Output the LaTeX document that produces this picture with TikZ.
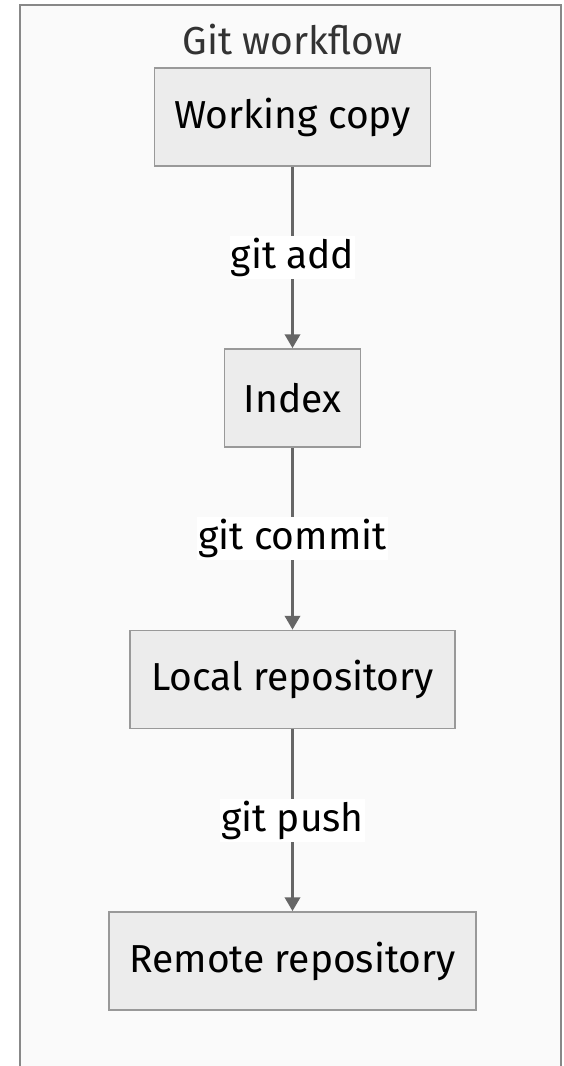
\documentclass[tikz,border=0pt]{standalone}
\usepackage{fontspec}
\setmainfont{Fira Sans}
\usetikzlibrary{arrows.meta}
\definecolor{framefill}{HTML}{FAFAFA}
\definecolor{framedraw}{HTML}{888888}
\definecolor{boxfill}{HTML}{ECECEC}
\definecolor{boxdraw}{HTML}{999999}
\definecolor{edgecol}{HTML}{666666}
\definecolor{titlecol}{HTML}{333333}
\begin{document}
\begin{tikzpicture}[x=1pt,y=-1pt,
  txt/.style={font=\fontsize{39}{44}\selectfont},
  stepbox/.style={txt, draw=boxdraw, fill=boxfill, line width=1.5pt, minimum height=98pt, inner sep=0pt},
  edgelabel/.style={txt, fill=white, inner xsep=1pt, inner ysep=2pt},
  flow/.style={draw=edgecol, line width=3.5pt, -{Triangle[length=14pt,width=15pt]}}
]
\useasboundingbox (0,0) rectangle (564,1066);
\fill[white] (0,0) rectangle (564,1066);
\filldraw[draw=framedraw, fill=framefill, line width=2pt] (20,1090) -- (20,5) -- (561,5) -- (561,1090);
\node[txt, text=titlecol] (title) at (292.5,40) {Git workflow};
\node[stepbox, minimum width=276pt] (wc) at (292.5,117) {Working copy};
\node[stepbox, minimum width=136pt] (idx) at (292.5,398) {Index};
\node[stepbox, minimum width=325pt] (loc) at (292.5,679.5) {Local repository};
\node[stepbox, minimum width=367pt] (rem) at (292.5,961) {Remote repository};
\draw[flow] (wc) -- node[edgelabel] {git add} (idx);
\draw[flow] (idx) -- node[edgelabel] {git commit} (loc);
\draw[flow] (loc) -- node[edgelabel] {git push} (rem);
\end{tikzpicture}
\end{document}
